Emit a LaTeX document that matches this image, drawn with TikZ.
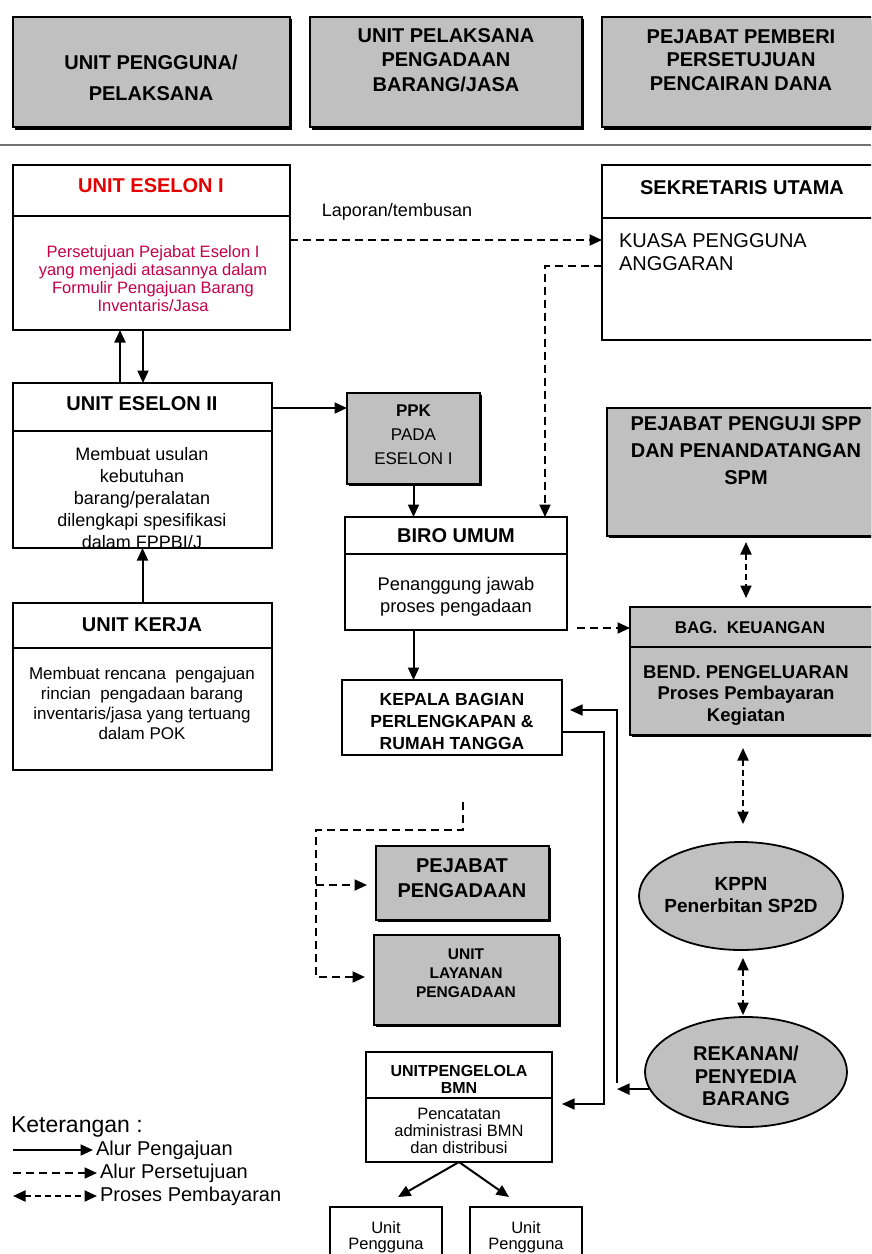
\documentclass[tikz,border=0pt]{standalone}
\usepackage{fontspec}
\setmainfont{Liberation Sans}
\setsansfont{Liberation Sans}
\usetikzlibrary{
  arrows.meta,
  shapes.geometric, % ellipse
  shadows,          % dark edge under the grey boxes
  calc,             % Calculations $...$
}
\definecolor{boxgrey}{RGB}{192,192,192}
\definecolor{titlered}{RGB}{228,0,0}
\definecolor{notered}{RGB}{196,0,72}
\newcommand{\fsz}[2]{\fontsize{#1pt}{#2pt}\selectfont}
\def\mylw{2pt}
\tikzset{
  font=\sffamily,
  >={Triangle[length=12.5pt,width=11pt]},
  frame/.style={
    draw,
    line width=1.8pt,
    inner sep=0pt,
    outer sep=0pt,
    anchor=north west
  },
  greybox/.style={
    frame,
    fill=boxgrey,
    drop shadow={shadow xshift=1.5pt,shadow yshift=-2pt,fill=black,opacity=1}
  },
  headbox/.style={
    greybox,
    line width=1.2pt,
    drop shadow={shadow xshift=1.5pt,shadow yshift=-3pt,fill=black,opacity=1}
  },
  oval/.style={
    ellipse,
    draw,
    fill=boxgrey,
    line width=1.8pt,
    inner sep=0pt
  },
  txt/.style={inner sep=0pt, align=center},
  ttl/.style={txt, font=\bfseries\fsz{20}{24}},
  divider/.style={line width=1.8pt},
  flow/.style={->, line width=\mylw},
  agree/.style={->, line width=\mylw, dash pattern=on 8pt off 5pt},
  pay/.style={<->, line width=\mylw, dash pattern=on 6pt off 4pt},
  thinflow/.style={line width=1.6pt}
}

\begin{document}
\begin{tikzpicture}[x=1pt, y=-1pt, line width=\mylw]
\clip (0,0) rectangle (871,1254);
% column headers
\node[headbox, minimum width=277pt, minimum height=110pt] (hdpengguna) at (13,17) {};
\node[headbox, minimum width=272pt, minimum height=110pt] (hdupbj)     at (310,17) {};
\node[headbox, minimum width=275pt, minimum height=110pt] (hdpemberi)  at (602,17) {};
\node[ttl, font=\bfseries\fsz{20}{31}]   (hdpenggunat) at (151,78) {UNIT PENGGUNA/\\PELAKSANA};
\node[ttl, font=\bfseries\fsz{20}{24.5}] (hdupbjt)     at (446,60) {UNIT PELAKSANA\\PENGADAAN\\BARANG/JASA};
\node[ttl, font=\bfseries\fsz{20}{23.5}] (hdpemberit)  at (741,60) {PEJABAT PEMBERI\\PERSETUJUAN\\PENCAIRAN DANA};
\draw[line width=2.2pt, black!55] (0,145) -- (871,145);

% unit pengguna
\node[frame, minimum width=277pt, minimum height=165pt] (es1) at (13,165) {};
\draw[divider] ([yshift=-51pt]es1.north west) -- ([yshift=-51pt]es1.north east);
\node[ttl, text=titlered] (es1t) at (151,186) {UNIT ESELON I};
\node[txt, text=notered, font=\fsz{16.5}{18}] (es1b) at (153,279)
  {Persetujuan Pejabat Eselon I\\yang menjadi atasannya dalam\\Formulir Pengajuan Barang\\Inventaris/Jasa};

\node[frame, minimum width=259pt, minimum height=165pt] (es2) at (13,383) {};
\draw[divider] ([yshift=-48pt]es2.north west) -- ([yshift=-48pt]es2.north east);
\node[ttl] (es2t) at (142,404) {UNIT ESELON II};
\begin{scope}
  \clip (es2.north west) rectangle (es2.south east);
  \node[txt, font=\fsz{18}{22}] (es2b) at (142,498)
    {Membuat usulan\\kebutuhan\\barang/peralatan\\dilengkapi spesifikasi\\dalam FPPBI/J};
\end{scope}

\node[frame, minimum width=259pt, minimum height=167pt] (kerja) at (13,603) {};
\draw[divider] ([yshift=-45pt]kerja.north west) -- ([yshift=-45pt]kerja.north east);
\node[ttl] (kerjat) at (142,625) {UNIT KERJA};
\node[txt, font=\fsz{17}{20}] (kerjab) at (142,703)
  {Membuat rencana\ \ pengajuan\\rincian\ \ pengadaan barang\\inventaris/jasa yang tertuang\\dalam POK};

% unit pelaksana pengadaan
\node[greybox, minimum width=133pt, minimum height=91pt] (ppk) at (347,393) {};
\node[txt, font=\fsz{17}{24}] (ppkt) at (413.5,435) {\textbf{PPK}\\PADA\\ESELON I};

\node[frame, minimum width=222pt, minimum height=113pt] (biro) at (345,517) {};
\draw[divider] ([yshift=-37pt]biro.north west) -- ([yshift=-37pt]biro.north east);
\node[ttl] (birot) at (456,536) {BIRO UMUM};
\node[txt, font=\fsz{18.3}{22}] (birob) at (456,597) {Penanggung jawab\\proses pengadaan};

\node[frame, minimum width=220pt, minimum height=75pt] (kabag) at (342,680) {};
\node[txt, font=\bfseries\fsz{17.5}{22}] (kabagt) at (452,721) {KEPALA BAGIAN\\PERLENGKAPAN \&\\RUMAH TANGGA};

\node[greybox, minimum width=173pt, minimum height=74pt] (pp) at (376,846) {};
\node[txt, font=\bfseries\fsz{20}{25}] (ppt) at (462,878) {PEJABAT\\PENGADAAN};
\node[greybox, minimum width=185pt, minimum height=90pt] (ulp) at (374,935) {};
\node[txt, font=\bfseries\fsz{15.5}{19}] (ulpt) at (466,973) {UNIT\\LAYANAN\\PENGADAAN};

\node[frame, minimum width=186pt, minimum height=110pt] (bmn) at (366,1052) {};
\draw[divider] ([yshift=-46pt]bmn.north west) -- ([yshift=-46pt]bmn.north east);
\node[txt, font=\bfseries\fsz{16}{17}] (bmnt) at (459,1079) {UNITPENGELOLA\\BMN};
\node[txt, font=\fsz{16.5}{17}] (bmnb) at (459,1131) {Pencatatan\\administrasi BMN\\dan distribusi};
\node[frame, minimum width=112pt, minimum height=60pt] (up1) at (330,1207) {};
\node[frame, minimum width=112pt, minimum height=60pt] (up2) at (470,1207) {};
\node[txt, font=\fsz{16.5}{16.5}] (up1t) at (386,1237) {Unit\\Pengguna};
\node[txt, font=\fsz{16.5}{16.5}] (up2t) at (526,1237) {Unit\\Pengguna};

% pemberi persetujuan
\node[frame, minimum width=275pt, minimum height=175pt] (sek) at (602,165) {};
\draw[divider] ([yshift=-53pt]sek.north west) -- ([yshift=-53pt]sek.north east);
\node[ttl] (sekt) at (742,188) {SEKRETARIS UTAMA};
\node[txt, align=left, anchor=west, font=\fsz{20}{23}] (sekb) at (618,252) {KUASA PENGGUNA\\ANGGARAN};

\node[greybox, minimum width=270pt, minimum height=128pt] (penguji) at (607,408) {};
\node[txt, font=\bfseries\fsz{20}{27}] (pengujit) at (746,451) {PEJABAT PENGUJI SPP\\DAN PENANDATANGAN\\SPM};

\node[greybox, minimum width=247pt, minimum height=128pt] (keu) at (630,607) {};
\draw[divider] ([yshift=-40pt]keu.north west) -- ([yshift=-40pt]keu.north east);
\node[txt, font=\bfseries\fsz{17}{20}] (keut) at (750,628) {BAG.\ \ KEUANGAN};
\node[txt, font=\bfseries\fsz{18.5}{21.5}] (keub) at (746,695) {BEND. PENGELUARAN\\Proses Pembayaran\\Kegiatan};

\node[oval, minimum width=204pt, minimum height=108pt] (kppn) at (741,896) {};
\node[txt, font=\bfseries\fsz{19}{22}] (kppnt) at (741,895) {KPPN\\Penerbitan SP2D};
\node[oval, minimum width=202pt, minimum height=110pt] (rek) at (746,1072) {};
\node[txt, font=\bfseries\fsz{20}{22.5}] (rekt) at (746,1076) {REKANAN/\\PENYEDIA\\BARANG};

\node[txt, font=\fsz{18}{20}] (laporan) at (397,212) {Laporan/tembusan};

% alur pengajuan
\draw[flow] ([xshift=107pt]es2.north west) -- ([xshift=107pt]es1.south west);
\draw[flow] ([xshift=130pt]es1.south west) -- ([xshift=130pt]es2.north west);
\draw[flow] (kerja.north) -- (kerja.north |- es2.south);
\draw[flow] ([yshift=-25pt]es2.north east) -- ([yshift=-25pt]es2.north east -| ppk.west);
\draw[flow] (ppk.south) -- (ppk.south |- biro.north);
\draw[flow] (ppk.south |- biro.south) -- (ppk.south |- kabag.north);
\coordinate (rv) at ([xshift=55pt]kabag.east);
\coordinate (bend) at (604,1104);
\draw[flow] (rek.190) -- (rek.190 -| rv);
\draw[flow, thinflow] ($(rek.190 -| rv)+(0,-6)$) |- ($(kabag.east)+(8,-7.5)$);
\draw[flow, thinflow] ($(kabag.east)+(0,14.5)$) -| (bend) -- ($(bend -| bmn.east)+(10,0)$);
\draw[flow] (bmn.south) -- ($(up1.north)+(12,-10)$);
\draw[flow] (bmn.south) -- ($(up2.north)+(-17,-10)$);

% alur persetujuan
\draw[agree] ([yshift=7.5pt]es1.east) -- ([yshift=7.5pt]es1.east -| sek.west);
\draw[agree] ([yshift=-13pt]sek.west) -| ([xshift=-22pt]biro.north east);
\draw[agree] ($(biro.south east)+(10,-2)$) -- ($(biro.south east -| keu.west)+(0,-2)$);
\coordinate (pstart) at (463,802);
\coordinate (pk) at (316,830);
\draw[agree] (pstart) |- (pk) |- ($(ulp.west)+(-9,-3)$);
\draw[agree] ($(pk |- pp.west)+(0,2)$) -- ($(pp.west)+(-9,2)$);

% proses pembayaran
\draw[pay] ($(penguji.south)+(4,6)$) -- ($(penguji.south |- keu.north)+(4,-9)$);
\draw[pay] ($(kppn.north |- keu.south)+(2,13)$) -- ($(kppn.north)+(2,-17)$);
\draw[pay] ($(kppn.south)+(2,7)$) -- ($(kppn.south |- rek.north)+(2,-1)$);

% keterangan
\node[anchor=west, inner sep=0pt, font=\fsz{23}{24}] (keterangan) at (10,1127) {Keterangan :};
\coordinate (lg1) at (13,1150);
\coordinate (lg2) at (13,1173);
\coordinate (lg3) at (13,1196);
\node[anchor=west, inner sep=2pt, font=\fsz{20}{22}] (lgt1) at (93,1150) {Alur Pengajuan};
\node[anchor=west, inner sep=2pt, font=\fsz{20}{22}] (lgt2) at (97,1173) {Alur Persetujuan};
\node[anchor=west, inner sep=2pt, font=\fsz{20}{22}] (lgt3) at (97,1196) {Proses Pembayaran};
\draw[flow]  (lg1) -- (lgt1.west);
\draw[agree] (lg2) -- (lgt2.west);
\draw[pay]   (lg3) -- (lgt3.west);
\end{tikzpicture}
\end{document}
